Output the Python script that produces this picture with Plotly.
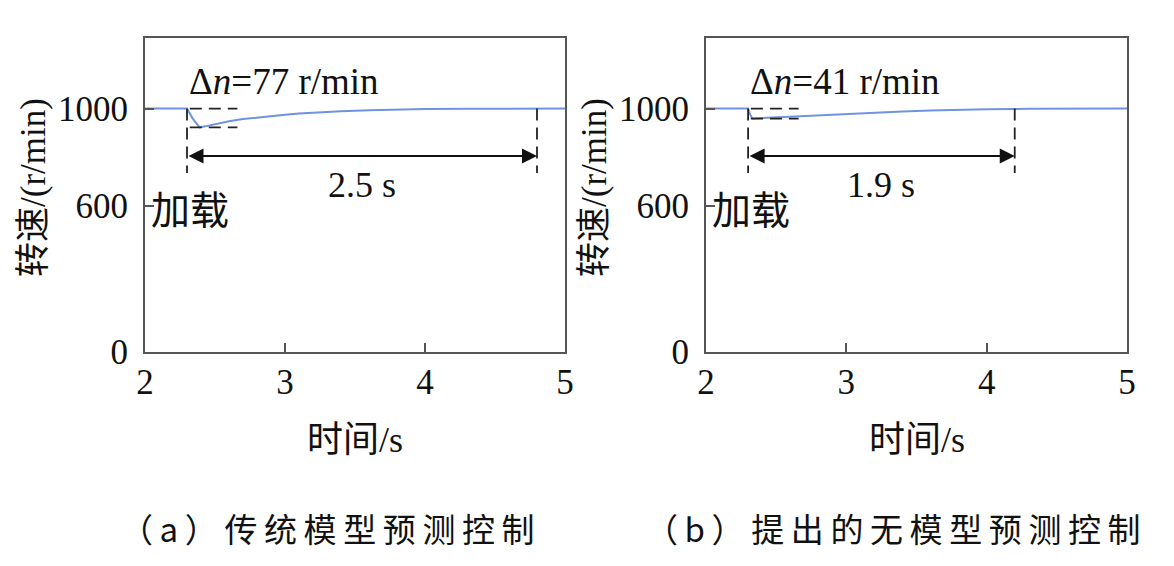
import plotly.graph_objects as go

# ---- data ----
t_a = [2.0, 2.3, 2.34, 2.39, 2.43, 2.47, 2.52, 2.6, 2.7, 2.8, 2.9, 3.0, 3.1, 3.25, 3.4, 3.6, 3.8, 4.0, 4.3, 4.6, 5.0]
n_a = [1000, 1000, 960, 923, 927, 932, 939, 948, 957, 964, 970, 975, 980, 985, 989, 993, 996, 998, 999, 1000, 1000]
t_b = [2.0, 2.3, 2.315, 2.33, 2.4, 2.5, 2.6, 2.8, 3.0, 3.2, 3.4, 3.6, 3.8, 4.0, 4.3, 4.6, 5.0]
n_b = [1000, 1000, 975, 959, 961, 964, 967, 973, 979, 984, 988, 992, 995, 997, 999, 1000, 1000]

load_t = 2.3
settle_a = 4.8
settle_b = 4.2
dn_a = 77
dn_b = 41
x_ticks = [2, 3, 4, 5]
y_ticks = [0, 600, 1000]
TS = "\u2009"
captions = [TS.join("（a）") + TS + TS.join("传统模型预测控制"),
            TS.join("（b）") + TS + TS.join("提出的无模型预测控制")]

FONT = "Liberation Serif, Times New Roman, Noto Sans CJK SC, serif"
CJK = "Noto Sans CJK SC, sans-serif"
LINE = "#6f93e0"
AX = "#555555"

fig = go.Figure()
fig.add_trace(go.Scatter(x=t_a, y=n_a, mode="lines", line=dict(color=LINE, width=2),
                         xaxis="x", yaxis="y", showlegend=False))
fig.add_trace(go.Scatter(x=t_b, y=n_b, mode="lines", line=dict(color=LINE, width=2),
                         xaxis="x2", yaxis="y2", showlegend=False))

axis_common = dict(showgrid=False, zeroline=False, showline=True, linecolor=AX, linewidth=2,
                   mirror=True, ticks="inside", ticklen=9, tickwidth=1.5, tickcolor=AX,
                   automargin=False,
                   tickfont=dict(family=FONT, size=35, color="#111"))
ya = dict(axis_common, range=[0, 1290], tickvals=y_ticks, ticklabelstandoff=8)
xa = dict(axis_common, range=[2, 5], tickvals=x_ticks, ticklabelstandoff=-2)

W, H = 1174, 566
OFF = 8  # page body margin


def px(x):
    return (x - OFF) / W


def py(y):
    return 1 - (y - OFF) / H


dom_y = [py(352), py(38)]
fig.update_layout(
    template="none",
    width=W, height=H, margin=dict(l=0, r=0, t=0, b=0, pad=0),
    paper_bgcolor="white", plot_bgcolor="white", showlegend=False,
    xaxis=dict(xa, domain=[px(145), px(565)], anchor="y"),
    yaxis=dict(ya, domain=dom_y, anchor="x"),
    xaxis2=dict(xa, domain=[px(706), px(1127)], anchor="y2"),
    yaxis2=dict(ya, domain=dom_y, anchor="x2"),
)

shapes = []
annotations = []
panels = [("x", "y", dn_a, settle_a, "2.5 s", 145, 565),
          ("x2", "y2", dn_b, settle_b, "1.9 s", 706, 1127)]
for (xr, yr, dn, settle, lbl, p0, p1) in panels:
    dash = dict(color="#222", width=1.8, dash="12px,7px")
    # vertical dashed lines
    for xv in (load_t, settle):
        shapes.append(dict(type="line", xref=xr, yref=yr, x0=xv, x1=xv, y0=1000, y1=735, line=dash))
    # horizontal dashed lines marking the dip
    for yv in (1000, 1000 - dn):
        shapes.append(dict(type="line", xref=xr, yref=yr, x0=load_t + 0.02, x1=load_t + 0.36,
                           y0=yv, y1=yv, line=dash))
    # double arrow
    annotations.append(dict(xref=xr, yref=yr, axref=xr, ayref=yr, x=settle, y=805, ax=load_t, ay=805,
                            showarrow=True, arrowhead=2, arrowside="end+start", arrowsize=1.5,
                            arrowwidth=2, arrowcolor="#111", text=""))
    annotations.append(dict(xref=xr, yref=yr, x=load_t, y=1110, xanchor="left", yanchor="middle",
                            text=f"Δ<i>n</i>={dn} r/min", showarrow=False,
                            font=dict(family=FONT, size=37, color="#111")))
    annotations.append(dict(xref=xr, yref=yr, x=(load_t + settle) / 2, y=685, xanchor="center",
                            yanchor="middle", text=lbl, showarrow=False,
                            font=dict(family=FONT, size=36, color="#111")))
    annotations.append(dict(xref=xr, yref=yr, x=2.03, y=595, xanchor="left", yanchor="middle",
                            text="加载", showarrow=False, font=dict(family=CJK, size=39, color="#111")))
    # axis titles
    annotations.append(dict(xref="paper", yref="paper", x=px((p0 + p1) / 2), y=py(440),
                            xanchor="center", yanchor="middle", text="时间/s", showarrow=False,
                            font=dict(family=FONT, size=36, color="#111")))
    annotations.append(dict(xref="paper", yref="paper", x=px(p0 - 112), y=py(188),
                            xanchor="center", yanchor="middle", textangle=-90, text="转速/(r/min)",
                            showarrow=False, font=dict(family=FONT, size=35, color="#111")))

annotations.append(dict(xref="paper", yref="paper", x=px(327), y=py(528), xanchor="center",
                        yanchor="middle", text=captions[0], showarrow=False,
                        font=dict(family=CJK, size=33, color="#111")))
annotations.append(dict(xref="paper", yref="paper", x=px(893), y=py(528), xanchor="center",
                        yanchor="middle", text=captions[1], showarrow=False,
                        font=dict(family=CJK, size=33, color="#111")))

fig.update_layout(shapes=shapes, annotations=annotations)
fig.write_html("out.html")
